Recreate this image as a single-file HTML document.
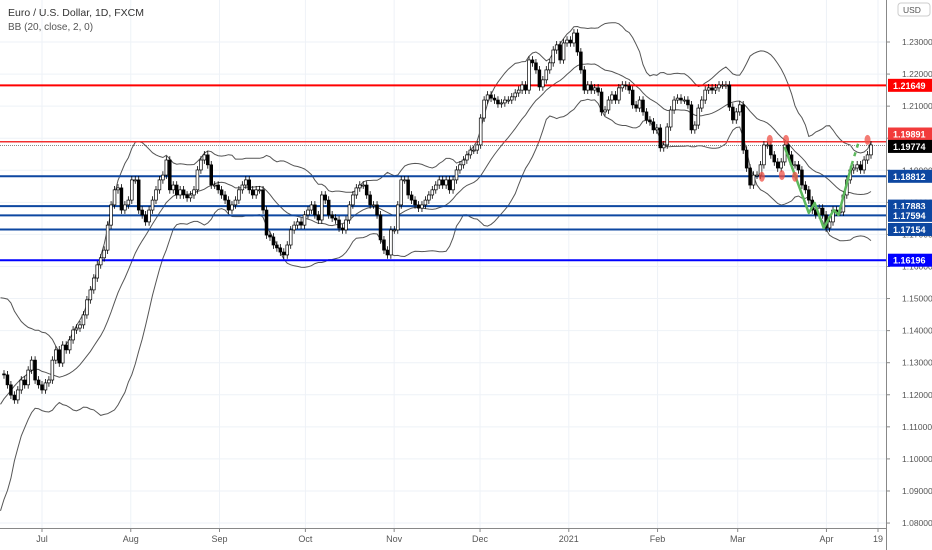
<!DOCTYPE html>
<html><head><meta charset="utf-8"><style>
html,body{margin:0;padding:0;background:#fff;width:932px;height:550px;overflow:hidden}
svg{display:block;font-family:"Liberation Sans",sans-serif}
</style></head><body>
<svg id="chart" width="932" height="550" viewBox="0 0 932 550" xmlns="http://www.w3.org/2000/svg">
<rect width="932" height="550" fill="#fff"/>
<g id="grid"></g>
<g id="bands"></g>
<g id="levels"></g>
<g id="candles"></g>
<g id="annot"></g>
<g id="axis"></g>
<g id="taxis"></g>
<text x="8" y="16" font-size="10.5" fill="#333">Euro / U.S. Dollar, 1D, FXCM</text>
<text x="8" y="30" font-size="10" fill="#555">BB (20, close, 2, 0)</text>
</svg>
<script>
const preCloses=[1.0920,1.0975,1.0940,1.0900,1.0985,1.1015,1.1080,1.1100,1.1135,1.1165,1.1240,1.1340,1.1290,1.1335,1.1375,1.1415,1.1375,1.1300,1.1255,1.1265];
const closes=[1.1262,1.1231,1.1199,1.1184,1.1215,1.1246,1.1231,1.1277,1.1308,1.1246,1.1231,1.1215,1.1237,1.1246,1.1308,1.1340,1.1299,1.1355,1.1340,
1.1371,1.1402,1.1408,1.1418,1.1449,1.1496,1.1527,1.1564,1.1605,1.1627,1.1651,1.1729,1.1792,1.1839,1.1845,1.1776,1.1792,1.1807,1.1870,1.1870,1.1776,1.1761,1.1739,1.1776,1.1807,1.1839,1.1870,1.1885,1.1932,1.1839,1.1854,1.1823,1.1839,1.1823,1.1814,1.1823,1.1839,1.1901,1.1932,1.1948,1.1917,1.1854,1.1854,1.1839,1.1823,1.1807,1.1776,1.1792,1.1807,1.1839,1.1854,1.1870,1.1839,1.1823,1.1839,1.1839,1.1776,1.1698,1.1692,1.1667,1.1658,1.1645,1.1636,1.1667,1.1714,1.1729,1.1739,1.1729,1.1761,1.1776,1.1792,1.1761,1.1745,1.1823,1.1807,1.1761,1.1751,1.1745,1.1720,1.1714,1.1745,1.1792,1.1823,1.1845,1.1854,1.1854,1.1823,1.1792,1.1792,1.1761,1.1683,1.1651,1.1636,1.1714,1.1714,1.1792,1.1870,1.1870,1.1823,1.1807,1.1792,1.1782,1.1792,1.1807,1.1823,1.1839,1.1854,1.1870,1.1854,1.1870,1.1839,1.1870,1.1901,1.1917,1.1932,1.1948,1.1963,1.1963,1.1979,1.2063,1.2119,1.2135,1.2125,1.2119,1.2107,1.2110,1.2119,1.2119,1.2129,1.2141,1.2150,1.2166,1.2150,1.2244,1.2235,1.2213,1.2160,1.2182,1.2213,1.2235,1.2275,1.2291,1.2244,1.2297,1.2306,1.2297,1.2328,1.2269,1.2213,1.2150,1.2166,1.2150,1.2157,1.2144,1.2082,1.2088,1.2119,1.2135,1.2119,1.2157,1.2166,1.2163,1.2150,1.2104,1.2094,1.2119,1.2082,1.2057,1.2051,1.2026,1.2032,1.1970,1.1979,1.2035,1.2088,1.2119,1.2125,1.2119,1.2119,1.2104,1.2026,1.2041,1.2094,1.2119,1.2150,1.2157,1.2150,1.2157,1.2166,1.2166,1.2166,1.2097,1.2057,1.2082,1.2104,1.1963,1.1907,1.1854,1.1885,1.1885,1.1917,1.1979,1.1979,1.1948,1.1926,1.1907,1.1926,1.1979,1.1948,1.1917,1.1917,1.1901,1.1854,1.1839,1.1807,1.1776,1.1761,1.1782,1.1761,1.1720,1.1739,1.1776,1.1770,1.1770,1.1823,1.1870,1.1901,1.1907,1.1917,1.1901,1.1932,1.1948,1.1979];
const priceTicks=[1.23,1.22,1.21,1.20,1.19,1.18,1.17,1.16,1.15,1.14,1.13,1.12,1.11,1.10,1.09,1.08];
const levelPrices=[1.21649,1.19891,1.18812,1.17883,1.17594,1.17154,1.16196];
const levelLabels=["1.21649","1.19891","1.18812","1.17883","1.17594","1.17154","1.16196"];
const levelColors=["#ff0000","#f23030","#0d47a1","#0d47a1","#0d47a1","#0d47a1","#0000ff"];
const lastPrice=1.19774;
const monthLabels=["Jul","Aug","Sep","Oct","Nov","Dec","2021","Feb","Mar","Apr","19"];
const monthDays=[0,31,62,92,123,153,184,215,243,274,292];
const redMarkPrices=[1.1995,1.1995,1.1880,1.1885,1.1880,1.1995];
const redMarkIdx=[221.7,226.4,219.4,225.2,229,250];
const greenPathPrices=[1.1973,1.1767,1.1798,1.1720,1.1776,1.1761,1.1917,1.1988];
const greenPathIdx=[226,233,234.7,237.3,240.2,241.6,245.4,247.4];

const NS="http://www.w3.org/2000/svg";
function el(tag,attrs,parent){const e=document.createElementNS(NS,tag);for(const k in attrs)e.setAttribute(k,attrs[k]);parent.appendChild(e);return e;}
const all=preCloses.concat(closes);
const P0=preCloses.length;
const dx=(871-4)/(closes.length-1);
const X=i=>4+(i-P0)*dx;
const Y=p=>42+(1.23-p)*3207;
const plotR=886;

const grid=document.getElementById('grid');
priceTicks.forEach(p=>{const l=el('line',{x1:0,x2:plotR,y1:Y(p),y2:Y(p),stroke:'#eef2f7','stroke-width':1},grid);

});
const dayX=d=>42+d*2.863;
monthDays.forEach(d=>{const l=el('line',{x1:dayX(d),x2:dayX(d),y1:0,y2:528,stroke:'#eef2f7','stroke-width':1},grid);

});

const bands=document.getElementById('bands');
let up=[],mid=[],lo=[];
for(let i=19;i<all.length;i++){const s=all.slice(i-19,i+1);const m=s.reduce((a,b)=>a+b,0)/20;const sd=Math.sqrt(s.reduce((a,b)=>a+(b-m)*(b-m),0)/20);
const x=X(i).toFixed(1);up.push(x+','+Y(m+2*sd).toFixed(1));mid.push(x+','+Y(m).toFixed(1));lo.push(x+','+Y(m-2*sd).toFixed(1));}
[[up,'bb-upper'],[mid,'bb-basis'],[lo,'bb-lower']].forEach(([pts,n])=>{const pl=el('polyline',{points:pts.join(' '),fill:'none',stroke:'#555','stroke-width':1},bands);

});

const lv=document.getElementById('levels');
levelPrices.forEach((p,k)=>{const l=el('line',{x1:0,x2:plotR,y1:Y(p),y2:Y(p),stroke:levelColors[k],'stroke-width':k==1?1.5:2},lv);

});
const dl=el('line',{x1:0,x2:plotR,y1:Y(lastPrice),y2:Y(lastPrice),stroke:'#888','stroke-width':1,'stroke-dasharray':'1,1'},lv);



const cg=document.getElementById('candles');
const wick=0.0012;
for(let i=P0;i<all.length;i++){const o=all[i-1],c=all[i];const x=X(i);
const hi=Math.max(o,c)+wick,lw=Math.min(o,c)-wick;
const w=el('line',{x1:x,x2:x,y1:Y(hi),y2:Y(lw),stroke:'#000','stroke-width':0.8},cg);


const top=Y(Math.max(o,c)),bot=Y(Math.min(o,c));
const b=el('rect',{x:x-1.4,y:top,width:2.8,height:Math.max(1,bot-top),fill:c>=o?'#fff':'#000',stroke:'#000','stroke-width':0.7},cg);

}

const an=document.getElementById('annot');
let gp=greenPathIdx.map((ix,k)=>X(ix+P0).toFixed(1)+','+Y(greenPathPrices[k]).toFixed(1));
const g1=el('polyline',{points:gp.slice(0,7).join(' '),fill:'none',stroke:'#5cb85c','stroke-width':2.5,'stroke-linejoin':'round'},an);


const g2=el('polyline',{points:gp.slice(6).join(' '),fill:'none',stroke:'#5cb85c','stroke-width':2.5,'stroke-dasharray':'4,5'},an);


redMarkIdx.forEach((ix,k)=>{const e=el('ellipse',{cx:X(ix+P0),cy:Y(redMarkPrices[k]),rx:3,ry:5,fill:'rgba(240,80,70,0.75)'},an);

});

const ax=document.getElementById('axis');
const al=el('line',{x1:plotR+0.5,x2:plotR+0.5,y1:0,y2:550,stroke:'#888','stroke-width':1},ax);


priceTicks.forEach(p=>{const t=el('line',{x1:plotR,x2:plotR+4,y1:Y(p),y2:Y(p),stroke:'#888'},ax);


const tx=el('text',{x:902,y:Y(p)+3,'font-size':8.5,fill:'#555'},ax);tx.textContent=p.toFixed(5);

});
const ub=el('rect',{x:898,y:3,width:32,height:13,rx:3,fill:'#fff',stroke:'#ccc'},ax);


const ut=el('text',{x:903,y:13,'font-size':8.5,fill:'#555'},ax);ut.textContent='USD';


function badge(p,txt,col,name){const y=Y(p);const r=el('rect',{x:888,y:y-6.5,width:44,height:13,fill:col},ax);


const t=el('text',{x:893,y:y+3.5,'font-size':9,fill:'#fff','font-weight':'bold'},ax);t.textContent=txt;

}
levelPrices.forEach((p,k)=>{let q=p;if(k==1)q=p+0.0024;badge(q,levelLabels[k],k==1?'#f23b3b':levelColors[k],'level-label');});
badge(lastPrice-0.0003,'1.19774','#000','last-price');

const ta=document.getElementById('taxis');
const bl=el('line',{x1:0,x2:plotR,y1:528.5,y2:528.5,stroke:'#888'},ta);


monthLabels.forEach((m,k)=>{const x=dayX(monthDays[k]);
const t=el('line',{x1:x,x2:x,y1:528,y2:532,stroke:'#888'},ta);


const tx=el('text',{x:x,y:542,'font-size':9,fill:'#555','text-anchor':'middle'},ta);tx.textContent=m;

});
</script>
</body></html>
